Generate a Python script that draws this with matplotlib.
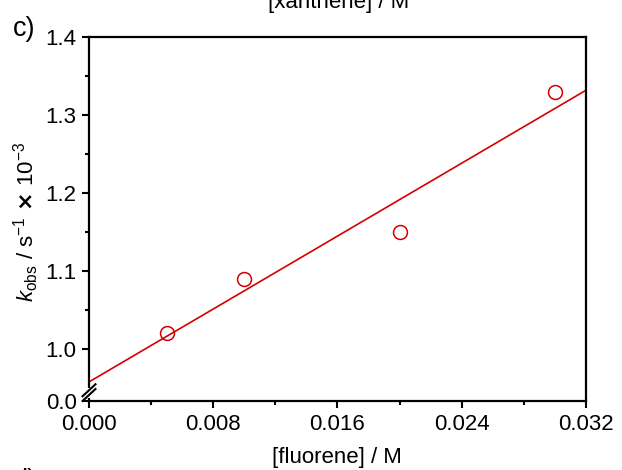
#!/usr/bin/env python3
"""k_obs vs [fluorene] with linear fit; broken y axis (0.0 // 1.0-1.4)."""
import matplotlib

matplotlib.use("Agg")
import matplotlib.pyplot as plt
import numpy as np

plt.rcParams["font.family"] = ["Liberation Sans", "DejaVu Sans"]
plt.rcParams["mathtext.fontset"] = "custom"
plt.rcParams["mathtext.rm"] = "Liberation Sans"
plt.rcParams["mathtext.it"] = "Liberation Sans:italic"

# data
conc = [0.005, 0.010, 0.020, 0.030]          # [fluorene] / M
kobs = [1.02, 1.09, 1.15, 1.33]              # k_obs / 1e-3 s^-1

x_ticks = [0.000, 0.008, 0.016, 0.024, 0.032]
x_ticklabels = ["0.000", "0.008", "0.016", "0.024", "0.032"]
y_bottom = 0.933                             # where the break puts "0.0"
y_ticks = [y_bottom, 1.0, 1.1, 1.2, 1.3, 1.4]
y_ticklabels = ["0.0", "1.0", "1.1", "1.2", "1.3", "1.4"]

RED = "#D40000"
FS = 16

fig = plt.figure(figsize=(6.22, 4.70), dpi=100)
ax = fig.add_axes([0.1431, 0.1468, 0.7990, 0.7745])

slope, icpt = np.polyfit(conc, kobs, 1)
xfit = np.array([0.0, 0.032])
ax.plot(xfit, icpt + slope * xfit, color=RED, lw=1.2, zorder=2)
ax.plot(conc, kobs, "o", mfc="none", mec=RED, ms=10, mew=1.1, zorder=3)

ax.set_xlim(0.0, 0.032)
ax.set_ylim(y_bottom, 1.4)
ax.set_xticks(x_ticks)
ax.set_xticklabels(x_ticklabels)
ax.set_xticks([0.004, 0.012, 0.020, 0.028], minor=True)
ax.set_yticks(y_ticks)
ax.set_yticklabels(y_ticklabels)
ax.set_yticks([1.05, 1.15, 1.25, 1.35], minor=True)

for s in ax.spines.values():
    s.set_linewidth(1.6)
ax.tick_params(which="major", direction="out", length=5, width=1.5,
               labelsize=FS, pad=4, top=False, right=False)
ax.tick_params(which="minor", direction="out", length=3, width=1.5,
               top=False, right=False)

# axis break on the left spine
ax.plot([0, 0], [0.008, 0.036], transform=ax.transAxes, color="white",
        lw=3, clip_on=False, zorder=5, solid_capstyle="butt")
for dy in (0.0, 0.013):
    ax.plot([-0.013, 0.013], [0.0 + dy, 0.033 + dy], transform=ax.transAxes,
            color="black", lw=1.5, clip_on=False, zorder=6)

fig.text(0.5418, 0.0149, "[fluorene] / M", ha="center", va="baseline", fontsize=FS)
fig.text(0.0418, 0.528,
         r"$k_{\mathrm{obs}}$ / s$^{-1}$ $\mathbf{\times}$ 10$^{-3}$",
         ha="center", va="center", rotation=90, fontsize=FS)
# neighbouring panel remnants (figure was cropped from a multi-panel plate)
fig.text(0.545, 0.983, "[xanthene] / M", ha="center", va="baseline", fontsize=FS)
fig.text(0.021, 1 - 36 / 470, "c)", ha="left", va="baseline", fontsize=19.5)
fig.text(0.021, -0.039, "d)", ha="left", va="baseline", fontsize=19.5)

fig.savefig("out.png", dpi=100)
